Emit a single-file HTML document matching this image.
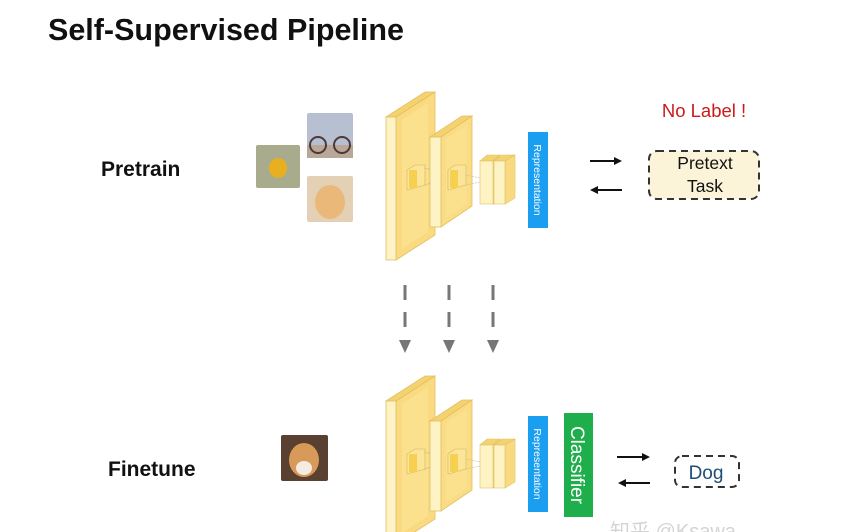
<!DOCTYPE html>
<html><head><meta charset="utf-8"><style>
html,body{margin:0;padding:0;background:#fff;}
svg{display:block;font-family:"Liberation Sans",Arial,sans-serif;}
</style></head><body>
<svg width="857" height="532" viewBox="0 0 857 532" xmlns="http://www.w3.org/2000/svg">
<defs>
<g id="net">
  <!-- big slab -->
  <polygon points="386,117 425,92 435,92 396,117" fill="#f5d270" stroke="#e2c060" stroke-width="0.8"/>
  <polygon points="396,117 435,92 435,235 396,260" fill="#f9da80" stroke="#e2c060" stroke-width="0.8"/>
  <polygon points="402,120 428,103 428,232 402,249" fill="#fbe08e"/>
  <rect x="386" y="117" width="10" height="143" fill="#fdf3c4" stroke="#e2c060" stroke-width="0.8"/>
  <!-- kernel on big slab -->
  <polygon points="407,170 415,165 425,165 425,185 407,190" fill="#fbe59a" stroke="#d8b650" stroke-width="0.6"/>
  <rect x="409" y="170" width="8" height="18" fill="#f6d050"/>
  <line x1="425" y1="168" x2="440" y2="172" stroke="#aaa" stroke-width="0.6" stroke-dasharray="2,1"/>
  <line x1="425" y1="185" x2="440" y2="180" stroke="#aaa" stroke-width="0.6" stroke-dasharray="2,1"/>
  <!-- second slab -->
  <polygon points="430,137 462,116 472,116 441,137" fill="#f5d270" stroke="#e2c060" stroke-width="0.8"/>
  <polygon points="441,137 472,116 472,206 441,227" fill="#fadc84" stroke="#e2c060" stroke-width="0.8"/>
  <polygon points="446,139 467,125 467,204 446,218" fill="#fbe08e"/>
  <rect x="430" y="137" width="11" height="90" fill="#fdf3c4" stroke="#e2c060" stroke-width="0.8"/>
  <polygon points="448,170 455,165 466,165 466,185 448,190" fill="#fbe59a" stroke="#d8b650" stroke-width="0.6"/>
  <rect x="450" y="170" width="8" height="18" fill="#f6d050"/>
  <line x1="466" y1="175" x2="480" y2="178" stroke="#bbb" stroke-width="0.6" stroke-dasharray="2,1"/>
  <line x1="466" y1="185" x2="480" y2="182" stroke="#bbb" stroke-width="0.6" stroke-dasharray="2,1"/>
  <!-- small blocks -->
  <polygon points="480,161 487,155 500,155 493,161" fill="#f5d270" stroke="#e2c060" stroke-width="0.6"/>
  <polygon points="493,161 500,155 500,198 493,204" fill="#f9da80" stroke="#e2c060" stroke-width="0.6"/>
  <rect x="480" y="161" width="13" height="43" fill="#fdf3c4" stroke="#e2c060" stroke-width="0.6"/>
  <polygon points="494,161 502,155 515,155 505,161" fill="#f5d270" stroke="#e2c060" stroke-width="0.6"/>
  <polygon points="505,161 515,155 515,198 505,204" fill="#f9da80" stroke="#e2c060" stroke-width="0.6"/>
  <rect x="494" y="161" width="11" height="43" fill="#fdf3c4" stroke="#e2c060" stroke-width="0.6"/>
  <!-- representation -->
  <rect x="528" y="132" width="20" height="96" fill="#1a9ef0"/>
  <text transform="translate(534,180) rotate(90)" text-anchor="middle" font-size="10.5" fill="#fff">Representation</text>
</g>
<marker id="ah" markerWidth="8" markerHeight="8" refX="6" refY="4" orient="auto" markerUnits="userSpaceOnUse">
  <polygon points="0,0 8,4 0,8" fill="#111"/>
</marker>
</defs>

<text x="48" y="40" font-size="30.5" font-weight="bold" fill="#111">Self-Supervised Pipeline</text>
<text x="101" y="176" font-size="21" font-weight="bold" fill="#111">Pretrain</text>
<text x="108" y="476" font-size="21" font-weight="bold" fill="#111">Finetune</text>

<!-- images -->
<rect x="256" y="145" width="44" height="43" fill="#a8ab8c" rx="2"/>
<ellipse cx="278" cy="168" rx="9" ry="10" fill="#e8b020"/>
<rect x="307" y="113" width="46" height="45" fill="#b6c0d0" rx="2"/>
<rect x="307" y="145" width="46" height="13" fill="#b8a898"/>
<circle cx="318" cy="145" r="8" fill="none" stroke="#503838" stroke-width="2"/>
<circle cx="342" cy="145" r="8" fill="none" stroke="#503838" stroke-width="2"/>
<rect x="307" y="176" width="46" height="46" fill="#e4d0b4" rx="2"/>
<ellipse cx="330" cy="202" rx="15" ry="17" fill="#eab878"/>
<rect x="281" y="435" width="47" height="46" fill="#5a4030" rx="2"/>
<ellipse cx="304" cy="460" rx="15" ry="17" fill="#d89a58"/>
<ellipse cx="304" cy="468" rx="8" ry="7" fill="#f4ece0"/>

<use href="#net"/>
<use href="#net" transform="translate(0,284)"/>

<!-- classifier -->
<rect x="564" y="413" width="29" height="104" fill="#1fae4c"/>
<text transform="translate(571,465) rotate(90)" text-anchor="middle" font-size="19" fill="#fff">Classifier</text>

<!-- top arrows -->
<line x1="590" y1="161" x2="620" y2="161" stroke="#111" stroke-width="2" marker-end="url(#ah)"/>
<line x1="622" y1="190" x2="592" y2="190" stroke="#111" stroke-width="2" marker-end="url(#ah)"/>
<text x="704" y="117" text-anchor="middle" font-size="18.5" fill="#cc1a1a">No Label !</text>
<rect x="649" y="151" width="110" height="48" rx="8" fill="#fcf4d8" stroke="#333" stroke-width="2" stroke-dasharray="7,5"/>
<text x="705" y="169" text-anchor="middle" font-size="17.5" fill="#111">Pretext</text>
<text x="705" y="192" text-anchor="middle" font-size="17.5" fill="#111">Task</text>

<!-- bottom arrows -->
<line x1="617" y1="457" x2="648" y2="457" stroke="#111" stroke-width="2" marker-end="url(#ah)"/>
<line x1="650" y1="483" x2="620" y2="483" stroke="#111" stroke-width="2" marker-end="url(#ah)"/>
<rect x="675" y="456" width="64" height="31" rx="7" fill="#fff" stroke="#333" stroke-width="2" stroke-dasharray="7,5"/>
<text x="706" y="479" text-anchor="middle" font-size="19" fill="#1e4e78">Dog</text>

<!-- dashed gray down arrows -->
<g stroke="#777" stroke-width="3">
  <line x1="405" y1="285" x2="405" y2="300"/><line x1="405" y1="312" x2="405" y2="327"/>
  <line x1="449" y1="285" x2="449" y2="300"/><line x1="449" y1="312" x2="449" y2="327"/>
  <line x1="493" y1="285" x2="493" y2="300"/><line x1="493" y1="312" x2="493" y2="327"/>
</g>
<g fill="#777">
  <polygon points="399,340 411,340 405,353"/>
  <polygon points="443,340 455,340 449,353"/>
  <polygon points="487,340 499,340 493,353"/>
</g>

<text x="610" y="538" font-size="20" fill="#d4d4d4" font-family="'Liberation Sans','Noto Sans CJK SC',sans-serif">知乎 @Ksawa</text>
</svg>
</body></html>
